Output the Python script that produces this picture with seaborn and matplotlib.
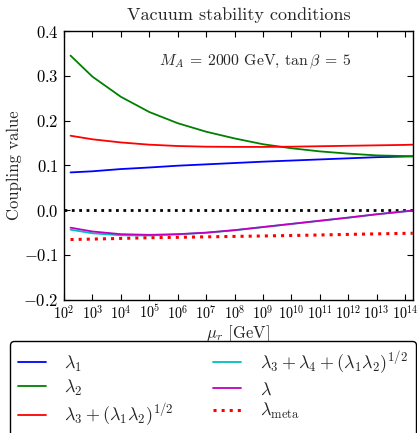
import numpy as np
import pandas as pd
import matplotlib
matplotlib.use("Agg")
import matplotlib.pyplot as plt
import seaborn as sns

# Running scale mu_r, given as log10(mu / GeV)
log_mu = [2.23, 3, 4, 5, 6, 7, 8, 9, 10, 11, 12, 13, 14, 14.27]

lam1 = [0.084, 0.0865, 0.0915, 0.095, 0.099, 0.102, 0.105, 0.108, 0.1105,
        0.113, 0.1155, 0.118, 0.1195, 0.120]
lam2 = [0.345, 0.298, 0.253, 0.219, 0.194, 0.175, 0.160, 0.147, 0.138,
        0.131, 0.126, 0.122, 0.1205, 0.120]
lam3_cond = [0.166, 0.158, 0.151, 0.146, 0.143, 0.1415, 0.141, 0.141, 0.1415,
             0.1425, 0.1435, 0.1445, 0.1455, 0.146]
lam34_cond = [-0.044, -0.052, -0.0565, -0.057, -0.0545, -0.051, -0.0453, -0.0383,
              -0.0312, -0.0241, -0.0171, -0.0097, -0.0031, -0.0015]
lam = [-0.0395, -0.048, -0.054, -0.0555, -0.054, -0.0505, -0.045, -0.038,
       -0.031, -0.024, -0.017, -0.0095, -0.003, -0.0015]
lam_meta = [-0.066, -0.065, -0.0635, -0.062, -0.061, -0.060, -0.059, -0.058,
            -0.057, -0.0558, -0.0545, -0.0533, -0.0522, -0.052]

labels = [r"$\lambda_1$", r"$\lambda_2$", r"$\lambda_3 + (\lambda_1\lambda_2)^{1/2}$",
          r"$\lambda_3 + \lambda_4 + (\lambda_1\lambda_2)^{1/2}$", r"$\lambda$",
          r"$\lambda_{\rm meta}$"]

sns.set_style("ticks")
plt.rcParams.update({
    "font.family": "serif",
    "font.serif": ["cmr10", "DejaVu Serif"],
    "mathtext.fontset": "cm",
    "axes.formatter.use_mathtext": True,
    "axes.unicode_minus": True,
    "xtick.direction": "in",
    "ytick.direction": "in",
    "xtick.top": True,
    "ytick.right": True,
    "xtick.major.size": 4,
    "ytick.major.size": 4,
    "xtick.minor.size": 0,
    "axes.edgecolor": "black",
    "axes.linewidth": 1.0,
    "xtick.color": "black",
    "ytick.color": "black",
})

mu = 10 ** np.array(log_mu)
df = pd.DataFrame({"mu": mu, "l1": lam1, "l2": lam2, "l3": lam3_cond,
                   "l34": lam34_cond, "l": lam, "lm": lam_meta})

fig = plt.figure(figsize=(4.17, 4.33), dpi=100)
ax = fig.add_axes([0.1535, 0.3083, 0.8362, 0.6201])

ax.axhline(0.0, color="black", ls=":", lw=2.0)

series = [("l1", (0, 0, 1), "-", 1.3), ("l2", (0, 0.5, 0), "-", 1.3),
          ("l3", (1, 0, 0), "-", 1.3), ("l34", (0, 0.75, 0.75), "-", 1.3),
          ("l", (0.75, 0, 0.75), "-", 1.3), ("lm", (1, 0, 0), ":", 2.2)]
for (col, c, ls, lw), lab in zip(series, labels):
    sns.lineplot(data=df, x="mu", y=col, color=c, linestyle=ls, lw=lw,
                 label=lab, ax=ax, legend=False)

ax.set_xscale("log")
ax.set_xlim(1e2, 10 ** 14.27)
ax.set_ylim(-0.2, 0.4)
ax.set_xticks([10.0 ** k for k in range(2, 15)])
ax.set_yticks([-0.2, -0.1, 0.0, 0.1, 0.2, 0.3, 0.4])
ax.xaxis.set_minor_locator(matplotlib.ticker.NullLocator())
ax.tick_params(axis="y", labelsize=12, pad=4)
ax.tick_params(axis="x", labelsize=10.3, pad=3)

ax.set_title("Vacuum stability conditions", fontsize=13, pad=8)
ax.set_xlabel(r"$\mu_r$ [GeV]", fontsize=12, labelpad=1)
ax.set_ylabel("Coupling value", fontsize=12, labelpad=1)
ax.text(0.548, 0.885, r"$M_A\:=\:2000$ GeV, $\tan\beta\:=\:5$", transform=ax.transAxes,
        ha="center", va="center", fontsize=11.3)

handles, labs = ax.get_legend_handles_labels()
fig.legend(handles, labs, loc="upper left", ncol=2,
           bbox_to_anchor=(0.024, 0.212), bbox_transform=fig.transFigure,
           fontsize=13, frameon=True, fancybox=True, edgecolor="black",
           framealpha=1.0, handlelength=1.55, handletextpad=1.0,
           columnspacing=2.2, labelspacing=0.22, borderpad=0.45,
           borderaxespad=0.0)

fig.savefig("out.png", dpi=100)
